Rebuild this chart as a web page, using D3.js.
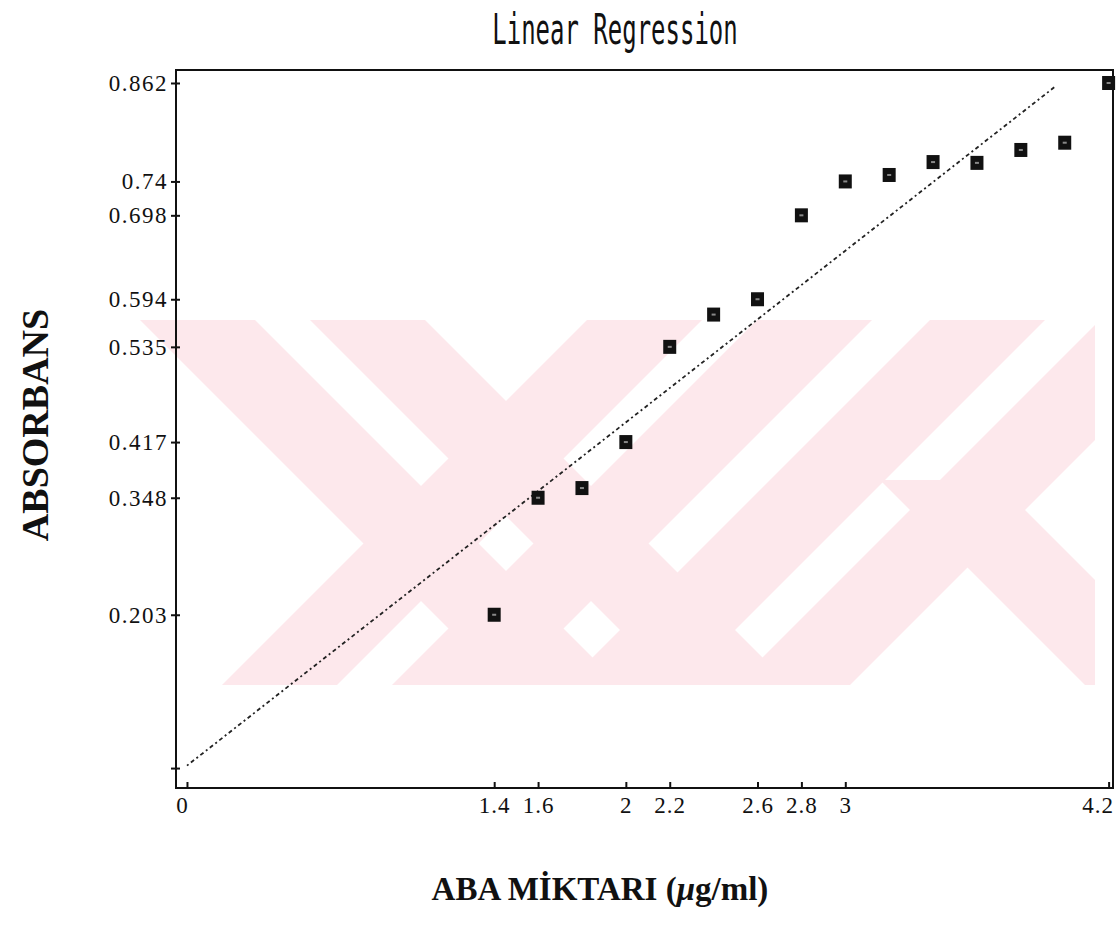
<!DOCTYPE html>
<html>
<head>
<meta charset="utf-8">
<script src="https://cdn.jsdelivr.net/npm/d3@7"></script>
<style>
  html, body { margin: 0; padding: 0; background: #fff; }
  svg { display: block; }
</style>
</head>
<body>
<svg id="chart" width="1117" height="926"></svg>
<script>
// ---- data ----
const abaX = [1.4, 1.6, 1.8, 2.0, 2.2, 2.4, 2.6, 2.8, 3.0, 3.2, 3.4, 3.6, 3.8, 4.0, 4.2];
const absorbans = [0.203, 0.348, 0.360, 0.417, 0.535, 0.575, 0.594, 0.698, 0.740, 0.748, 0.764, 0.763, 0.779, 0.788, 0.862];
const xTickValues = [0, 1.4, 1.6, 2, 2.2, 2.6, 2.8, 3, 4.2];
const xTickLabels = ["0", "1.4", "1.6", "2", "2.2", "2.6", "2.8", "3", "4.2"];
const yTickValues = [0.013, 0.203, 0.348, 0.417, 0.535, 0.594, 0.698, 0.74, 0.862];
const yTickLabels = ["", "0.203", "0.348", "0.417", "0.535", "0.594", "0.698", "0.74", "0.862"];
const lineXRange = [0, 3.96];

// ---- layout ----
const svg = d3.select("#chart");
const L = 176, R = 1113, T = 70, B = 788;
const x = d3.scaleLinear().domain([-0.05, 4.22]).range([L, R]);
const y = d3.scaleLinear().domain([-0.0117, 0.8781]).range([B, T]);

// ---- watermark (decoration only) ----
const pink = "#fde8ec";
const wm = svg.append("g");
wm.append("clipPath").attr("id", "wmclip").append("rect")
  .attr("x", 140).attr("y", 320).attr("width", 955).attr("height", 365);
const wmg = wm.append("g").attr("clip-path", "url(#wmclip)");
const top0 = 320, bot0 = 685;
// [x-left at yStart, x-right at yStart, direction, yStart]; direction 1 = "\" , -1 = "/"
const bandDefs = [
  [140, 255, 1, top0], [310, 425, 1, top0],       // left X "\"
  [587, 702, -1, top0], [757, 872, -1, top0],     // left X "/"
  [930, 1045, -1, top0], [1100, 1215, -1, top0],  // right "/"
  [880, 995, 1, 480]                              // right lower leg "\"
];
bandDefs.forEach(([a, b, dir, y0]) => {
  const h = bot0 - y0;
  const pts = [[a, y0], [b, y0], [b + dir * h, bot0], [a + dir * h, bot0]];
  wmg.append("polygon").attr("points", pts.map(d => d.join(",")).join(" ")).attr("fill", pink);
});

// ---- frame ----
svg.append("rect").attr("x", L).attr("y", T).attr("width", R - L).attr("height", B - T)
  .attr("fill", "none").attr("stroke", "#111").attr("stroke-width", 2);

// ---- axes ----
const xAxis = d3.axisBottom(x).tickValues(xTickValues).tickSize(0)
  .tickFormat((d, i) => xTickLabels[i]);
const gx = svg.append("g").attr("transform", `translate(0,${B})`).call(xAxis);
gx.select(".domain").remove();
gx.selectAll(".tick text").attr("font-family", "Liberation Serif, Times New Roman, serif")
  .attr("font-size", 23).attr("fill", "#111").attr("dy", "0.95em").attr("letter-spacing", 1);
gx.selectAll(".tick text").filter((d, i) => i === xTickValues.length - 1)
  .attr("text-anchor", "end").attr("x", 5);
gx.selectAll(".tick text").filter((d, i) => i === 0).attr("x", -5);
gx.selectAll(".tick").append("line").attr("y1", 0).attr("y2", -6)
  .attr("stroke", "#111").attr("stroke-width", 2);

const yAxis = d3.axisLeft(y).tickValues(yTickValues).tickSize(0)
  .tickFormat((d, i) => yTickLabels[i]);
const gy = svg.append("g").attr("transform", `translate(${L},0)`).call(yAxis);
gy.select(".domain").remove();
gy.selectAll(".tick text").attr("font-family", "Liberation Serif, Times New Roman, serif")
  .attr("font-size", 23).attr("fill", "#111").attr("x", -8).attr("letter-spacing", 1.5);
gy.selectAll(".tick").append("line").attr("x1", -5).attr("x2", 4)
  .attr("stroke", "#111").attr("stroke-width", 2);

// ---- regression line (least squares from data) ----
const mx = d3.mean(abaX), my = d3.mean(absorbans);
const slope = d3.sum(abaX, (d, i) => (d - mx) * (absorbans[i] - my)) / d3.sum(abaX, d => (d - mx) ** 2);
const icpt = my - slope * mx;
const line = d3.line().x(d => x(d)).y(d => y(icpt + slope * d));
svg.append("path").datum(lineXRange).attr("d", line)
  .attr("fill", "none").attr("stroke", "#222").attr("stroke-width", 1.8)
  .attr("stroke-dasharray", "2,3,4,3");

// ---- markers ----
const pts = abaX.map((d, i) => ({ x: d, y: absorbans[i] }));
svg.append("g").selectAll("rect").data(pts).join("rect")
  .attr("x", d => x(d.x) - 6.5).attr("y", d => y(d.y) - 7)
  .attr("width", 13).attr("height", 14).attr("fill", "#111");
svg.append("g").selectAll("rect").data(pts).join("rect")
  .attr("x", d => x(d.x) - 2).attr("y", d => y(d.y) - 1)
  .attr("width", 4).attr("height", 2).attr("fill", "#fff").attr("opacity", 0.5);

// ---- texts ----
svg.append("text").attr("transform", "translate(615,44) scale(1,1.75)")
  .attr("text-anchor", "middle").attr("font-family", "DejaVu Sans Mono, monospace")
  .attr("font-size", 24).attr("fill", "#111").text("Linear Regression");

const xl = svg.append("text").attr("x", 600).attr("y", 900).attr("text-anchor", "middle")
  .attr("font-family", "Liberation Serif, Times New Roman, serif").attr("font-weight", "bold")
  .attr("font-size", 33).attr("fill", "#111");
xl.append("tspan").text("ABA MİKTARI (");
xl.append("tspan").attr("font-style", "italic").text("μ");
xl.append("tspan").text("g/ml)");

svg.append("text").attr("transform", "translate(48,425) rotate(-90)").attr("text-anchor", "middle")
  .attr("font-family", "Liberation Serif, Times New Roman, serif").attr("font-weight", "bold")
  .attr("font-size", 38).attr("fill", "#111").text("ABSORBANS");
</script>
</body>
</html>
